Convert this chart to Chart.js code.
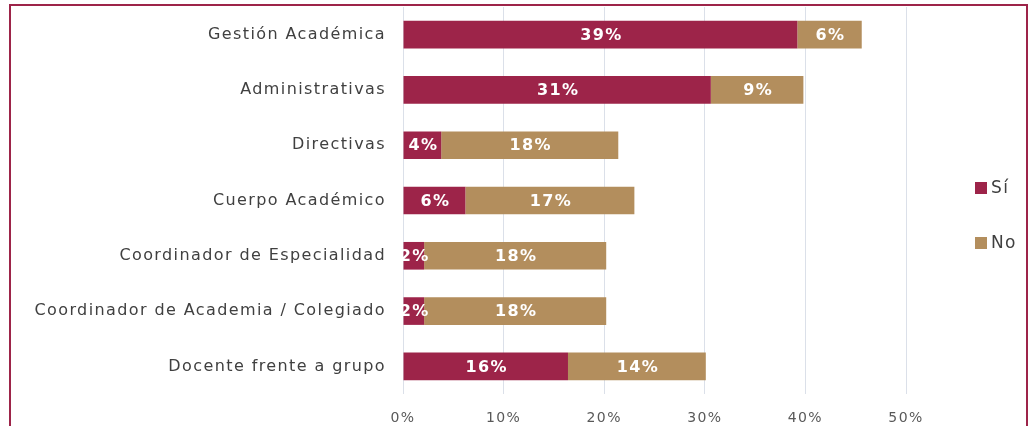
<!DOCTYPE html>
<html>
<head>
<meta charset="utf-8">
<script src="https://cdn.jsdelivr.net/npm/chart.js@4.4.1/dist/chart.umd.min.js"></script>
<style>
  html, body { margin: 0; padding: 0; background: #ffffff; overflow: hidden; }
  canvas { display: block; }
</style>
</head>
<body>
<canvas id="myChart" width="1030" height="426"></canvas>
<script>
// chart data
const categories = [
  'Gestión Académica',
  'Administrativas',
  'Directivas',
  'Cuerpo Académico',
  'Coordinador de Especialidad',
  'Coordinador de Academia / Colegiado',
  'Docente frente a grupo'
];
const siValues = [39.2, 30.6, 3.8, 6.2, 2.1, 2.1, 16.4];
const noValues = [6.4, 9.2, 17.6, 16.8, 18.1, 18.1, 13.7];
const xTicks = [0, 10, 20, 30, 40, 50];

const GUINDA = '#9d2449';
const DORADO = '#b38e5d';
const FONT = "'DejaVu Sans', sans-serif";

// wider text, closer to the original typeface
const spacing = {
  id: 'spacing',
  beforeUpdate(chart) { chart.ctx.letterSpacing = '1.4px'; },
  beforeDraw(chart) { chart.ctx.letterSpacing = '1.4px'; }
};

// open frame: top, left and right edges
const frame = {
  id: 'frame',
  afterDraw(chart) {
    const ctx = chart.ctx;
    ctx.save();
    ctx.strokeStyle = GUINDA;
    ctx.lineWidth = 2;
    ctx.beginPath();
    ctx.moveTo(10, chart.height + 5);
    ctx.lineTo(10, 5);
    ctx.lineTo(1027, 5);
    ctx.lineTo(1027, chart.height + 5);
    ctx.stroke();
    ctx.restore();
  }
};

// white percentage inside each bar segment
const barLabels = {
  id: 'barLabels',
  afterDatasetsDraw(chart) {
    const ctx = chart.ctx;
    const area = chart.chartArea;
    ctx.save();
    ctx.beginPath();
    ctx.rect(area.left, area.top, area.right - area.left, area.bottom - area.top);
    ctx.clip();
    ctx.font = "bold 16px " + FONT;
    ctx.fillStyle = '#ffffff';
    ctx.textAlign = 'center';
    ctx.textBaseline = 'middle';
    chart.data.datasets.forEach((ds, di) => {
      const meta = chart.getDatasetMeta(di);
      meta.data.forEach((bar, i) => {
        const p = bar.getProps(['x', 'y', 'base'], true);
        ctx.fillText(Math.round(ds.data[i]) + '%', (p.x + p.base) / 2 + 1, p.y + 1);
      });
    });
    ctx.restore();
  }
};

// legend on the right, spaced like the original
const sideLegend = {
  id: 'sideLegend',
  afterDraw(chart) {
    const ctx = chart.ctx;
    const x = 975, y0 = 188, step = 55;
    ctx.save();
    ctx.font = "17px " + FONT;
    ctx.textBaseline = 'middle';
    ctx.textAlign = 'left';
    chart.data.datasets.forEach((ds, i) => {
      const y = y0 + i * step;
      ctx.fillStyle = ds.backgroundColor;
      ctx.fillRect(x, y - 6, 12, 12);
      ctx.fillStyle = '#404040';
      ctx.fillText(ds.label, x + 16, y + 1);
    });
    ctx.restore();
  }
};

new Chart(document.getElementById('myChart'), {
  type: 'bar',
  data: {
    labels: categories,
    datasets: [
      { label: 'Sí', data: siValues, backgroundColor: GUINDA },
      { label: 'No', data: noValues, backgroundColor: DORADO }
    ]
  },
  options: {
    indexAxis: 'y',
    responsive: false,
    animation: false,
    layout: { padding: { top: 7, right: 124, bottom: 0, left: 0 } },
    datasets: { bar: { barPercentage: 0.5, categoryPercentage: 1 } },
    plugins: {
      legend: { display: false },
      tooltip: { enabled: false }
    },
    scales: {
      x: {
        stacked: true,
        min: 0,
        max: 50,
        afterBuildTicks: s => { s.ticks = xTicks.map(v => ({ value: v })); },
        afterFit: s => { s.height = 32; s.paddingLeft = 0; s.paddingRight = 0; },
        grid: { color: '#dbe0e9', drawTicks: false },
        border: { display: false },
        ticks: {
          callback: v => v + '%',
          color: '#595959',
          font: { family: FONT, size: 14 },
          padding: 16
        }
      },
      y: {
        stacked: true,
        afterFit: s => { s.width = 403; s.paddingTop = 0; s.paddingBottom = 0; },
        grid: { display: false, drawTicks: false },
        border: { display: false },
        ticks: {
          color: '#404040',
          font: { family: FONT, size: 16 },
          padding: 17
        }
      }
    }
  },
  plugins: [spacing, barLabels, sideLegend, frame]
});
</script>
</body>
</html>
